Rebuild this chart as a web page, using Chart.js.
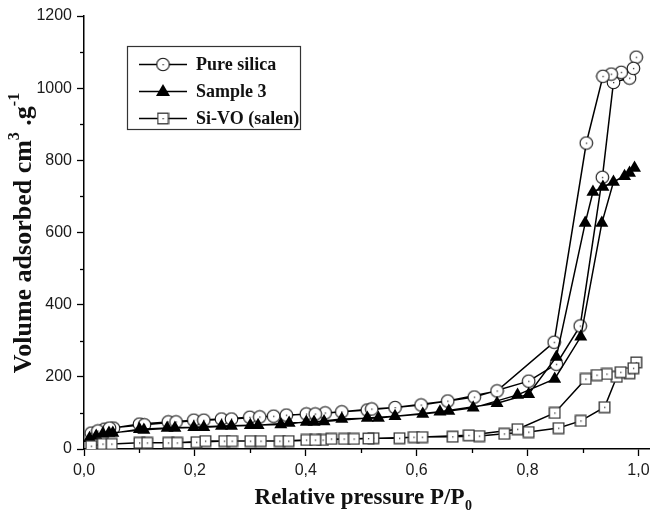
<!DOCTYPE html>
<html><head><meta charset="utf-8">
<script src="https://cdn.jsdelivr.net/npm/chart.js@4"></script>
<style>html,body{margin:0;padding:0;background:#fff}canvas{display:block}</style>
</head><body>
<canvas id="c" width="657" height="516"></canvas>
<script>
// ---- data (adsorption branch ascending, then desorption branch descending) ----
const seriesNames = ['Pure silica', 'Sample 3', 'Si-VO (salen)'];

const silicaX = [0.013,0.037,0.053,0.100,0.152,0.198,0.248,0.299,0.342,0.401,0.435,0.511,0.608,0.704,0.802,0.852,0.895,0.935,0.955,0.984,0.996,
                 0.991,0.969,0.951,0.936,0.906,0.848,0.745,0.656,0.561,0.519,0.465,0.417,0.365,0.317,0.266,0.216,0.166,0.109,0.046,0.025];
const silicaY = [44,55,58,69,75,80,83,88,91,97,100,108,122,144,188,235,341,753,1016,1028,1086,
                 1055,1044,1039,1033,848,296,161,133,115,111,103,97,94,89,83,80,75,67,58,50];

const sample3X = [0.010,0.034,0.052,0.100,0.150,0.198,0.248,0.300,0.355,0.401,0.433,0.511,0.561,0.611,0.658,0.702,0.782,0.849,0.896,0.934,0.955,0.984,0.993,
                  0.975,0.936,0.918,0.904,0.852,0.802,0.745,0.642,0.531,0.465,0.415,0.370,0.314,0.266,0.216,0.164,0.108,0.045,0.022];
const sample3Y = [30,42,44,55,58,60,64,66,68,75,76,86,91,97,105,114,150,194,311,626,740,765,779,
                  756,726,712,626,255,152,127,103,86,83,75,72,66,64,60,58,53,44,36];

const sivoX = [0.013,0.034,0.050,0.100,0.152,0.203,0.253,0.300,0.353,0.401,0.431,0.469,0.522,0.569,0.595,0.665,0.713,0.758,0.802,0.856,0.896,0.939,0.961,0.984,0.996,
               0.991,0.968,0.943,0.925,0.905,0.849,0.782,0.694,0.610,0.513,0.487,0.446,0.417,0.369,0.319,0.267,0.219,0.168,0.114];
const sivoY = [8,14,14,17,17,19,22,22,22,25,25,28,30,30,33,34,36,42,47,58,78,116,200,210,240,
               224,213,208,205,194,100,55,38,33,29,28,28,25,22,22,22,22,17,17];

const xTickValues = [0, 0.2, 0.4, 0.6, 0.8, 1.0];
const xTickLabels = ['0,0', '0,2', '0,4', '0,6', '0,8', '1,0'];
const xMinorValues = [0.1, 0.3, 0.5, 0.7, 0.9];
const yTickValues = [0, 200, 400, 600, 800, 1000, 1200];
const yTickLabels = ['0', '200', '400', '600', '800', '1000', '1200'];
const yMinorValues = [100, 300, 500, 700, 900, 1100];

// ---- marker images ----
function circleMarker() {
  const c = document.createElement('canvas'); c.width = 15; c.height = 15;
  const g = c.getContext('2d');
  g.beginPath(); g.arc(7.5, 7.5, 6.3, 0, Math.PI * 2);
  g.fillStyle = '#fff'; g.fill(); g.lineWidth = 1.1; g.strokeStyle = '#111'; g.stroke();
  g.fillStyle = '#333'; g.fillRect(7, 7, 1.3, 1.3);
  return c;
}
function squareMarker() {
  const c = document.createElement('canvas'); c.width = 13; c.height = 13;
  const g = c.getContext('2d');
  g.fillStyle = '#fff'; g.fillRect(1, 1, 11, 11);
  g.lineWidth = 1.3; g.strokeStyle = '#333'; g.strokeRect(1.2, 1.2, 10.6, 10.6);
  g.fillStyle = '#333'; g.fillRect(6, 6, 1.3, 1.3);
  return c;
}
const circleImg = circleMarker();
const squareImg = squareMarker();

function pts(xs, ys) { return xs.map((x, i) => ({ x: x, y: ys[i] })); }

const serif = '"Liberation Serif", "Times New Roman", serif';
const sans = '"Liberation Sans", Arial, sans-serif';

// ---- custom drawing: minor ticks, axis titles, legend ----
const decor = {
  id: 'decor',
  afterDraw(chart) {
    const ctx = chart.ctx;
    const xs = chart.scales.x, ys = chart.scales.y;
    const ca = chart.chartArea;
    ctx.save();
    ctx.strokeStyle = '#000'; ctx.lineWidth = 1.3;
    xMinorValues.forEach(v => {
      const px = Math.round(xs.getPixelForValue(v)) + 0.5;
      ctx.beginPath(); ctx.moveTo(px, ca.bottom); ctx.lineTo(px, ca.bottom + 4); ctx.stroke();
    });
    yMinorValues.forEach(v => {
      const py = Math.round(ys.getPixelForValue(v)) + 0.5;
      ctx.beginPath(); ctx.moveTo(ca.left, py); ctx.lineTo(ca.left - 4, py); ctx.stroke();
    });

    // x title
    ctx.fillStyle = '#111';
    ctx.textBaseline = 'alphabetic';
    const xf = 'bold 23px ' + serif, xsf = 'bold 14px ' + serif;
    ctx.font = xf;
    const xMain = 'Relative pressure P/P';
    const wMain = ctx.measureText(xMain).width;
    ctx.font = xsf; const wSub = ctx.measureText('0').width;
    let x0 = 363 - (wMain + wSub) / 2, yb = 504;
    ctx.font = xf; ctx.textAlign = 'left'; ctx.fillText(xMain, x0, yb);
    ctx.font = xsf; ctx.fillText('0', x0 + wMain + 0.5, yb + 6);

    // y title (rotated)
    const yf = 'bold 26px ' + serif, ysf = 'bold 16px ' + serif;
    const parts = [['Volume adsorbed cm', yf, 0], ['3', ysf, -12], [' .g', yf, 0], ['-1', ysf, -12]];
    let total = 0;
    parts.forEach(p => { ctx.font = p[1]; p.push(ctx.measureText(p[0]).width); total += p[3]; });
    ctx.save();
    ctx.translate(31, 233);
    ctx.rotate(-Math.PI / 2);
    let cx = -total / 2;
    parts.forEach(p => { ctx.font = p[1]; ctx.fillText(p[0], cx, p[2]); cx += p[3]; });
    ctx.restore();

    // legend
    ctx.lineWidth = 1.2; ctx.strokeStyle = '#333';
    ctx.strokeRect(127.5, 46.5, 173, 83);
    const rows = [64, 91, 118];
    chart.data.datasets.forEach((ds, i) => {
      const y = rows[i];
      ctx.strokeStyle = '#000'; ctx.lineWidth = 1.5;
      ctx.beginPath(); ctx.moveTo(139, y + 0.5); ctx.lineTo(187, y + 0.5); ctx.stroke();
      const st = ds.pointStyle;
      if (st === 'triangle') {
        ctx.fillStyle = '#000';
        ctx.beginPath(); ctx.moveTo(163, y - 7); ctx.lineTo(170, y + 5); ctx.lineTo(156, y + 5); ctx.closePath(); ctx.fill();
      } else {
        ctx.drawImage(st, 163 - st.width / 2, y + 0.5 - st.height / 2);
      }
      ctx.fillStyle = '#111'; ctx.font = 'bold 18px ' + serif; ctx.textAlign = 'left'; ctx.textBaseline = 'middle';
      ctx.fillText(ds.label, 196, y + 1);
    });
    ctx.restore();
  }
};

new Chart(document.getElementById('c'), {
  type: 'scatter',
  data: {
    datasets: [
      { label: seriesNames[0], data: pts(silicaX, silicaY), showLine: true, borderColor: '#000', borderWidth: 1.5,
        pointStyle: circleImg, pointRadius: 6, order: 3 },
      { label: seriesNames[1], data: pts(sample3X, sample3Y), showLine: true, borderColor: '#000', borderWidth: 1.5,
        pointStyle: 'triangle', pointRadius: 7.5, pointBackgroundColor: '#000', pointBorderColor: '#000', pointBorderWidth: 0, order: 2 },
      { label: seriesNames[2], data: pts(sivoX, sivoY), showLine: true, borderColor: '#000', borderWidth: 1.5,
        pointStyle: squareImg, pointRadius: 6, order: 1 }
    ]
  },
  options: {
    responsive: false, devicePixelRatio: 1, animation: false,
    layout: { padding: { top: 16, right: 1, left: 0, bottom: 0 } },
    plugins: { legend: { display: false }, tooltip: { enabled: false } },
    scales: {
      x: {
        type: 'linear', min: 0, max: 1.02,
        afterBuildTicks: s => { s.ticks = xTickValues.map(v => ({ value: v })); },
        afterFit: s => { s.height = 67; },
        ticks: { callback: (v, i) => xTickLabels[i], font: { family: sans, size: 16 }, color: '#1a1a1a', padding: 5, maxRotation: 0, autoSkip: false },
        grid: { drawOnChartArea: false, drawTicks: true, tickLength: 7, tickColor: '#000', tickWidth: 1.3 },
        border: { display: true, color: '#000', width: 1.5 }
      },
      y: {
        type: 'linear', min: 0, max: 1200,
        afterBuildTicks: s => { s.ticks = yTickValues.map(v => ({ value: v })); },
        afterFit: s => { s.width = 84; },
        ticks: { callback: (v, i) => yTickLabels[i], font: { family: sans, size: 16 }, color: '#1a1a1a', padding: 5, autoSkip: false },
        grid: { drawOnChartArea: false, drawTicks: true, tickLength: 7, tickColor: '#000', tickWidth: 1.3 },
        border: { display: true, color: '#000', width: 1.5 }
      }
    }
  },
  plugins: [decor]
});
</script>
</body></html>
